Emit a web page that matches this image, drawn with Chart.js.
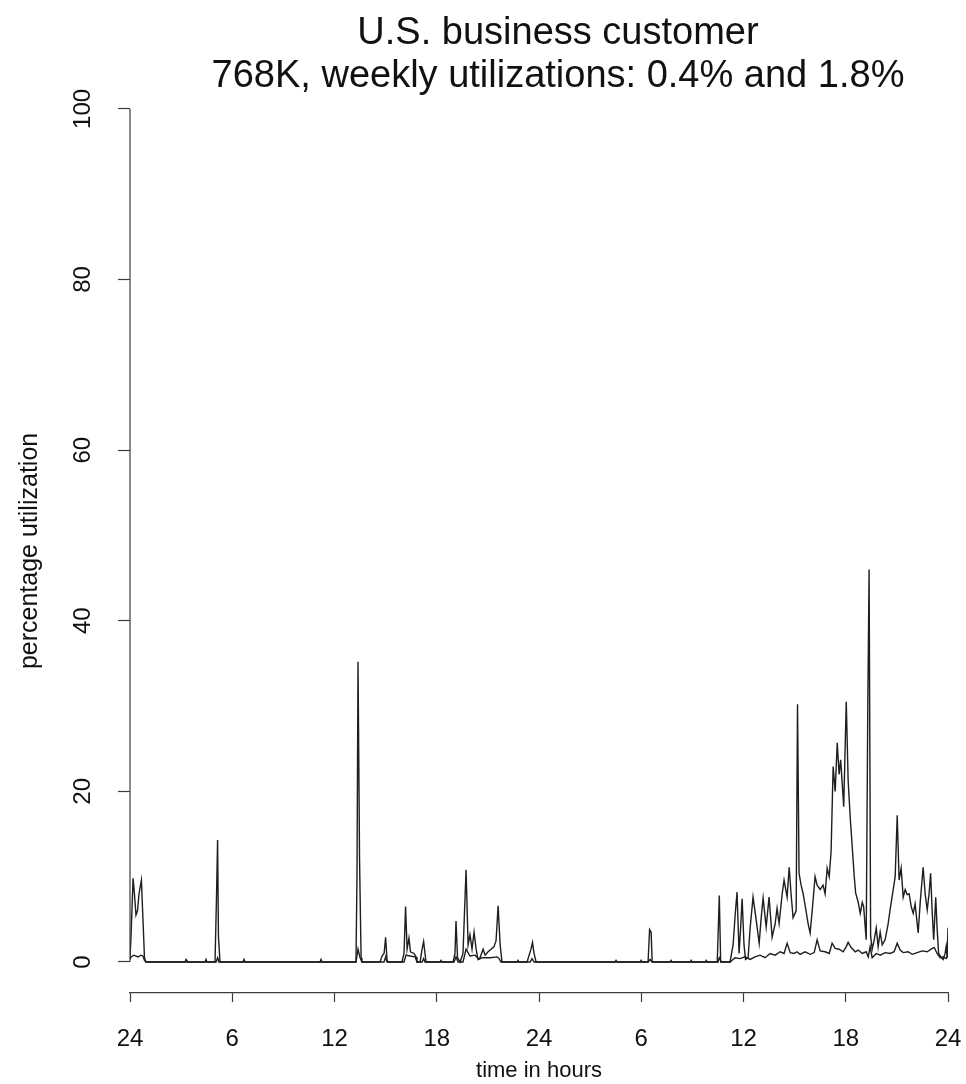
<!DOCTYPE html>
<html lang="en">
<head>
    <meta charset="UTF-8">
    <title>U.S. business customer</title>
    <script src="https://cdn.jsdelivr.net/npm/chart.js"></script>
    <style>
        body {
            margin: 0;
            background: #fff;
            overflow: hidden;
        }
        .chart-wrapper {
            position: relative;
            width: 966px;
            height: 1084px;
        }
    </style>
</head>
<body>
    <div class="chart-wrapper">
        <canvas id="utilChart"></canvas>
    </div>

    <script>
        // x axis: hours since the first midnight (0..48), labelled as clock hours
        const xTickHours = [0, 6, 12, 18, 24, 30, 36, 42, 48];
        const xTickLabels = ['24', '6', '12', '18', '24', '6', '12', '18', '24'];
        const yTicks = [0, 20, 40, 60, 80, 100];

        // upper trace
        const hoursA = [
            0.00, 0.06, 0.18, 0.26, 0.35, 0.44, 0.53, 0.67, 0.76, 0.85, 0.94,
            3.23, 3.29, 3.40, 4.40, 4.46, 4.52, 4.99, 5.08, 5.14, 5.19, 5.28,
            6.63, 6.69, 6.75, 11.15, 11.21, 11.27,
            13.26, 13.32, 13.38, 13.47, 13.56, 13.61,
            14.67, 14.79, 14.91, 15.00, 15.08, 15.14,
            15.96, 16.08, 16.17, 16.26, 16.37, 16.46, 16.67, 16.79, 16.84,
            17.02, 17.14, 17.23, 17.31, 17.37, 18.19, 18.25, 18.31,
            18.96, 19.07, 19.13, 19.22, 19.37, 19.54, 19.72, 19.84, 19.95, 20.07,
            20.19, 20.31, 20.42, 20.54, 20.72, 20.84, 21.01, 21.19, 21.36, 21.48,
            21.60, 21.72, 21.83, 22.71, 22.77, 22.83,
            23.30, 23.42, 23.53, 23.62, 23.71, 23.83,
            28.46, 28.52, 28.58, 29.93, 29.99, 30.05,
            30.40, 30.49, 30.58, 30.64, 31.69, 31.75, 31.81, 32.87, 32.93, 32.99,
            33.75, 33.81, 33.87, 34.46, 34.58, 34.66,
            35.21, 35.39, 35.51, 35.62, 35.74, 35.83, 35.92, 36.03, 36.12, 36.27,
            36.39, 36.56, 36.74, 36.92, 37.03, 37.15, 37.33, 37.50, 37.68, 37.86,
            37.97, 38.09, 38.27, 38.38, 38.56, 38.68, 38.79, 38.91, 39.09, 39.17,
            39.26, 39.38, 39.50, 39.67, 39.79, 39.91, 40.03, 40.20, 40.32, 40.50,
            40.67, 40.79, 40.91, 41.03, 41.14, 41.26, 41.38, 41.50, 41.61, 41.70,
            41.79, 41.88, 42.03, 42.14, 42.26, 42.38, 42.50, 42.58, 42.73, 42.85,
            42.97, 43.05, 43.20, 43.29, 43.37, 43.46, 43.55, 43.67, 43.79, 43.90,
            44.02, 44.14, 44.31, 44.49, 44.60, 44.78, 44.90, 45.02, 45.13, 45.25,
            45.37, 45.49, 45.60, 45.72, 45.84, 45.96, 46.07, 46.25, 46.37, 46.54,
            46.66, 46.78, 46.89, 46.98, 47.07, 47.16, 47.28, 47.36, 47.45, 47.60,
            47.72, 47.83, 47.89, 47.95, 48.00
        ];
        const utilA = [
            0.5, 3, 9.8, 8, 5.5, 6, 8, 9.6, 5, 0.5, 0,
            0, 0.3, 0, 0, 0.3, 0, 0, 8, 14.3, 3, 0,
            0, 0.3, 0, 0, 0.3, 0,
            0, 10, 35.2, 12, 0.5, 0,
            0, 0.7, 1, 2.9, 0.3, 0,
            0, 1, 6.5, 1.5, 2.8, 1.2, 1, 0.6, 0,
            0, 1.5, 2.4, 1, 0, 0, 0.2, 0,
            0, 1, 4.8, 0.5, 0, 1, 10.8, 2, 3.2, 1.5,
            3.5, 1.5, 0.3, 0.5, 1.5, 0.8, 1.2, 1.5, 1.8, 2.5,
            6.6, 2, 0, 0, 0.2, 0,
            0, 0.8, 1.5, 2.3, 1.0, 0,
            0, 0.2, 0, 0, 0.2, 0,
            0, 3.8, 3.5, 0, 0, 0.2, 0, 0, 0.2, 0,
            0, 0.2, 0, 0, 7.8, 0,
            0, 2, 5.5, 8.2, 1, 4, 7.4, 2, 0.3, 0.5,
            4, 7.6, 5, 2.2, 5, 7.5, 4.1, 7.6, 2.9, 4.5,
            6.3, 4.5, 8, 9.6, 7.6, 11.1, 8, 5.2, 6, 30.2,
            10.4, 9, 8, 6, 4.5, 3.4, 6, 10, 9, 8.5,
            9, 8, 11, 10, 13, 22.9, 20, 25.7, 22, 23.7,
            21, 18.2, 30.5, 21.3, 17, 13.5, 10, 8.1, 7, 5.7,
            7, 6.5, 2.6, 29, 46, 3, 1.5, 2.6, 4, 1.8,
            3.5, 2, 2.6, 4.5, 6.1, 8.4, 10, 17.2, 9.6, 11,
            7.6, 8.5, 7.9, 8, 6.5, 5.7, 6.8, 3.4, 7, 11.1,
            8, 6.1, 8, 10.4, 6, 2.6, 7.6, 4, 1.0, 0.5,
            0.3, 1.0, 1.8, 0.5, 4.0
        ];

        // lower trace
        const hoursB = [
            0.00, 0.06, 0.23, 0.47, 0.65, 0.76, 0.85, 0.94,
            5.05, 5.14, 5.22, 13.26, 13.38, 13.50, 13.61,
            14.91, 15.00, 15.08, 16.08, 16.20, 16.43, 16.73, 16.84,
            17.14, 17.23, 17.31, 19.01, 19.13, 19.25,
            19.54, 19.72, 19.95, 20.25, 20.48, 20.66, 21.13, 21.54, 21.66, 21.77,
            23.48, 23.59, 23.71, 30.40, 30.52, 30.64, 34.51, 34.58, 34.70,
            35.21, 35.51, 35.80, 36.09, 36.39, 36.68, 36.97, 37.27, 37.56, 37.86,
            38.15, 38.38, 38.56, 38.74, 38.97, 39.14, 39.32, 39.61, 39.91, 40.15,
            40.32, 40.50, 40.79, 41.03, 41.20, 41.38, 41.61, 41.85, 42.03, 42.14,
            42.32, 42.56, 42.73, 42.97, 43.20, 43.32, 43.43, 43.55, 43.79, 44.02,
            44.31, 44.60, 44.84, 45.02, 45.19, 45.37, 45.66, 45.90, 46.19, 46.49,
            46.78, 47.01, 47.19, 47.36, 47.54, 47.72, 47.89, 48.00
        ];
        const utilB = [
            0.3, 0.6, 0.8, 0.6, 0.8, 0.7, 0.2, 0,
            0, 0.5, 0, 0, 1.5, 0.5, 0,
            0, 0.6, 0, 0, 0.8, 0.7, 0.6, 0,
            0, 0.4, 0, 0, 0.6, 0,
            0, 1.5, 0.7, 0.8, 0.3, 0.5, 0.5, 0.6, 0.4, 0,
            0, 0.4, 0, 0, 0.3, 0, 0, 0.5, 0,
            0, 0.5, 0.4, 0.6, 0.3, 0.6, 0.8, 0.5, 1.0, 0.8,
            1.2, 1.0, 2.2, 1.1, 1.0, 1.2, 0.9, 1.2, 0.9, 1.1,
            2.6, 1.3, 1.2, 1.0, 2.2, 1.6, 1.5, 1.2, 1.8, 2.3,
            1.7, 1.2, 1.4, 1.0, 1.2, 0.6, 1.8, 0.5, 1.0, 0.8,
            1.1, 1.0, 1.2, 2.2, 1.4, 1.1, 1.2, 0.9, 1.1, 1.3,
            1.2, 1.5, 1.7, 1.0, 0.5, 0.6, 0.4, 0.8
        ];

        const ink = '#1e1e1e';
        const axisColor = '#3c3c3c';
        const sans = '"Liberation Sans", Arial, sans-serif';

        // R style y axis: line only spans the tick range
        const yAxisLine = {
            id: 'yAxisLine',
            afterDraw(chart) {
                const y = chart.scales.y;
                const ctx = chart.ctx;
                const x = chart.chartArea.left;
                ctx.save();
                ctx.strokeStyle = axisColor;
                ctx.lineWidth = 1.2;
                ctx.beginPath();
                ctx.moveTo(x, y.getPixelForValue(yTicks[0]));
                ctx.lineTo(x, y.getPixelForValue(yTicks[yTicks.length - 1]));
                ctx.stroke();
                ctx.restore();
            }
        };

        // R centres the main title over the wider figure region, a bit right of the axes
        const titleShift = {
            id: 'titleShift',
            afterLayout(chart) {
                const t = chart.titleBlock;
                if (t) {
                    t.left += 38;
                    t.width -= 38;
                }
            }
        };

        new Chart(document.getElementById('utilChart'), {
            type: 'line',
            data: {
                datasets: [
                    {
                        label: 'upper',
                        data: hoursA.map((h, i) => ({x: h, y: utilA[i]})),
                        borderColor: ink,
                        borderWidth: 1.4,
                        pointRadius: 0,
                        tension: 0
                    },
                    {
                        label: 'lower',
                        data: hoursB.map((h, i) => ({x: h, y: utilB[i]})),
                        borderColor: ink,
                        borderWidth: 1.4,
                        pointRadius: 0,
                        tension: 0
                    }
                ]
            },
            options: {
                responsive: true,
                maintainAspectRatio: false,
                animation: false,
                events: [],
                layout: {
                    padding: {left: 0, right: 18, top: 0, bottom: 0}
                },
                plugins: {
                    legend: {display: false},
                    tooltip: {enabled: false},
                    title: {
                        display: true,
                        fullSize: false,
                        text: ['U.S. business customer', '768K, weekly utilizations: 0.4% and 1.8%'],
                        color: '#111',
                        font: {family: sans, size: 38, weight: 'normal', lineHeight: 1.13},
                        padding: {top: 12, bottom: 11}
                    }
                },
                scales: {
                    x: {
                        type: 'linear',
                        min: 0,
                        max: 48,
                        afterBuildTicks: s => { s.ticks = xTickHours.map(v => ({value: v})); },
                        afterFit: s => { s.height = 91; s.paddingLeft = 0; s.paddingRight = 0; },
                        ticks: {
                            callback: (v, i) => xTickLabels[i],
                            color: '#111',
                            font: {family: sans, size: 24},
                            padding: 23,
                            maxRotation: 0,
                            autoSkip: false
                        },
                        grid: {
                            drawOnChartArea: false,
                            drawTicks: true,
                            tickLength: 9,
                            tickColor: axisColor,
                            tickWidth: 1.2
                        },
                        border: {display: true, color: axisColor, width: 1.2},
                        title: {
                            display: true,
                            text: 'time in hours',
                            color: '#111',
                            font: {family: sans, size: 22},
                            padding: {top: 0, bottom: 0}
                        }
                    },
                    y: {
                        min: -3.634,
                        max: 100,
                        afterBuildTicks: s => { s.ticks = yTicks.map(v => ({value: v})); },
                        afterFit: s => { s.width = 130; s.paddingTop = 0; s.paddingBottom = 0; },
                        ticks: {
                            color: '#111',
                            font: {family: sans, size: 24},
                            minRotation: 90,
                            maxRotation: 90,
                            crossAlign: 'center',
                            padding: 15
                        },
                        grid: {
                            drawOnChartArea: false,
                            drawTicks: true,
                            tickLength: 12,
                            tickColor: axisColor,
                            tickWidth: 1.2
                        },
                        border: {display: false},
                        title: {
                            display: true,
                            text: 'percentage utilization',
                            color: '#111',
                            font: {family: sans, size: 25},
                            padding: {top: 15, bottom: 0}
                        }
                    }
                }
            },
            plugins: [yAxisLine, titleShift]
        });
    </script>
</body>
</html>
